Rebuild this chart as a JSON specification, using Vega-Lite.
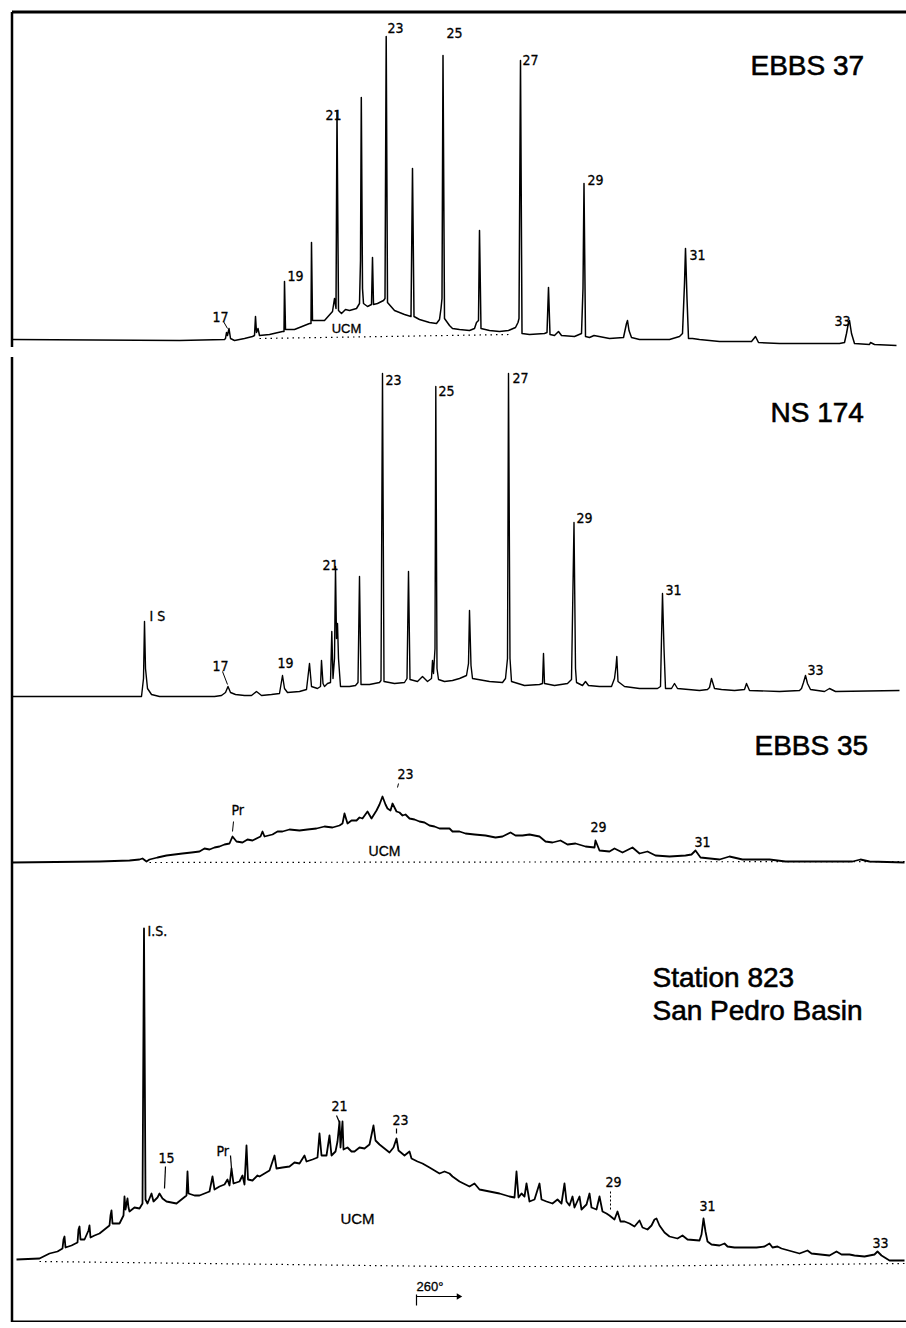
{
  "$schema": "https://vega.github.io/schema/vega-lite/v6.json",
  "background": "white",
  "padding": {"left": 10.5, "top": 11.5, "right": 0, "bottom": 0},
  "spacing": 10,
  "config": {
    "view": {"stroke": null},
    "axis": {"domain": true, "domainColor": "#000", "domainWidth": 2.5, "ticks": false, "labels": false, "grid": false, "minExtent": 0, "maxExtent": 0},
    "text": {"color": "#000"}
  },
  "resolve": {"scale": {"x": "independent", "y": "independent"}},
  "datasets": {
    "p1": [
      {"rt":12,"sig":0},{"rt":180,"sig":-1},{"rt":225,"sig":0},{"rt":226,"sig":1},{"rt":227,"sig":7},{"rt":228,"sig":4},{"rt":229.5,"sig":11},{"rt":231,"sig":1},{"rt":235,"sig":-1},{"rt":245,"sig":1},{"rt":253,"sig":3},{"rt":255,"sig":4},{"rt":256,"sig":23},{"rt":257,"sig":7},{"rt":258.5,"sig":11},{"rt":260,"sig":4},{"rt":270,"sig":5},{"rt":283,"sig":8},{"rt":284.5,"sig":8},{"rt":285,"sig":58},{"rt":286,"sig":10},{"rt":295,"sig":10},{"rt":300,"sig":12},{"rt":310,"sig":16},{"rt":311.5,"sig":16},{"rt":312,"sig":97},{"rt":313,"sig":19},{"rt":320,"sig":19},{"rt":325,"sig":19},{"rt":333,"sig":28},{"rt":335,"sig":41},{"rt":336.5,"sig":31},{"rt":337.5,"sig":228},{"rt":339,"sig":29},{"rt":342,"sig":26},{"rt":346,"sig":30},{"rt":350,"sig":29},{"rt":357,"sig":31},{"rt":360,"sig":36},{"rt":361,"sig":79},{"rt":361.8,"sig":242},{"rt":363,"sig":51},{"rt":364,"sig":36},{"rt":368,"sig":33},{"rt":372,"sig":35},{"rt":373,"sig":82},{"rt":374,"sig":35},{"rt":378,"sig":36},{"rt":384,"sig":39},{"rt":385.5,"sig":41},{"rt":386.7,"sig":303},{"rt":388,"sig":37},{"rt":395,"sig":29},{"rt":405,"sig":25},{"rt":411.5,"sig":23},{"rt":413,"sig":171},{"rt":414.5,"sig":23},{"rt":420,"sig":20},{"rt":430,"sig":17},{"rt":437,"sig":16},{"rt":440,"sig":20},{"rt":441.5,"sig":31},{"rt":442.5,"sig":41},{"rt":443.5,"sig":284},{"rt":445,"sig":21},{"rt":450,"sig":14},{"rt":453,"sig":11},{"rt":460,"sig":10},{"rt":470,"sig":9},{"rt":475,"sig":11},{"rt":477,"sig":17},{"rt":479,"sig":19},{"rt":480,"sig":109},{"rt":481.5,"sig":11},{"rt":490,"sig":9},{"rt":500,"sig":8},{"rt":509,"sig":9},{"rt":516,"sig":12},{"rt":518.5,"sig":17},{"rt":519.5,"sig":21},{"rt":521,"sig":279},{"rt":522.5,"sig":6},{"rt":530,"sig":5},{"rt":545,"sig":6},{"rt":547.5,"sig":7},{"rt":549,"sig":52},{"rt":550.5,"sig":5},{"rt":555,"sig":4},{"rt":559,"sig":8},{"rt":562,"sig":4},{"rt":575,"sig":3},{"rt":582,"sig":6},{"rt":583.5,"sig":51},{"rt":584.5,"sig":156},{"rt":586,"sig":3},{"rt":590,"sig":2},{"rt":594.5,"sig":4},{"rt":610,"sig":1},{"rt":624,"sig":2},{"rt":627,"sig":16},{"rt":628,"sig":19},{"rt":629.5,"sig":9},{"rt":632,"sig":2},{"rt":640,"sig":0},{"rt":670,"sig":0},{"rt":680,"sig":3},{"rt":683,"sig":6},{"rt":685,"sig":56},{"rt":686,"sig":91},{"rt":687.5,"sig":41},{"rt":689,"sig":1},{"rt":693,"sig":1},{"rt":700,"sig":0},{"rt":720,"sig":-2},{"rt":752,"sig":-2},{"rt":756,"sig":3},{"rt":759,"sig":-3},{"rt":780,"sig":-4},{"rt":840,"sig":-4},{"rt":845,"sig":-3},{"rt":847,"sig":6},{"rt":849,"sig":17},{"rt":850,"sig":19},{"rt":852,"sig":6},{"rt":855,"sig":-4},{"rt":870,"sig":-5},{"rt":871,"sig":-3},{"rt":875,"sig":-5},{"rt":897,"sig":-6}
    ],
    "u1": [{"rt":260,"sig":1},{"rt":510,"sig":5}],
    "l1": [
      {"rt":213,"sig":22,"label":"17"},{"rt":288,"sig":63,"label":"19"},{"rt":326,"sig":224,"label":"21"},{"rt":388,"sig":311,"label":"23"},{"rt":447,"sig":306,"label":"25"},{"rt":523,"sig":279,"label":"27"},{"rt":588,"sig":159,"label":"29"},{"rt":690,"sig":84,"label":"31"},{"rt":835,"sig":18,"label":"33"}
    ],
    "c1": [{"rt":347,"sig":11,"label":"UCM"}],
    "t1": [{"rt":751,"sig":273,"label":"EBBS 37"}],
    "k1": [{"rt":224,"sig":18,"rt2":228,"sig2":11}],
    "p2": [
      {"rt":12,"sig":0},{"rt":142,"sig":0},{"rt":144,"sig":18},{"rt":145,"sig":75},{"rt":146,"sig":28},{"rt":148,"sig":8},{"rt":152,"sig":2},{"rt":160,"sig":0},{"rt":215,"sig":0},{"rt":222,"sig":1},{"rt":226,"sig":4},{"rt":228.5,"sig":10},{"rt":231,"sig":4},{"rt":236,"sig":2},{"rt":245,"sig":1},{"rt":252,"sig":1},{"rt":257,"sig":5},{"rt":262,"sig":1},{"rt":272,"sig":2},{"rt":280,"sig":3},{"rt":283,"sig":21},{"rt":285,"sig":8},{"rt":288,"sig":4},{"rt":300,"sig":5},{"rt":307,"sig":7},{"rt":310,"sig":33},{"rt":312,"sig":10},{"rt":318,"sig":8},{"rt":321,"sig":10},{"rt":322,"sig":36},{"rt":323.5,"sig":13},{"rt":325,"sig":10},{"rt":328,"sig":13},{"rt":331,"sig":14},{"rt":332.3,"sig":65},{"rt":333.5,"sig":18},{"rt":335,"sig":38},{"rt":336,"sig":130},{"rt":337,"sig":58},{"rt":338,"sig":73},{"rt":339,"sig":38},{"rt":341,"sig":10},{"rt":350,"sig":10},{"rt":356,"sig":11},{"rt":358.5,"sig":14},{"rt":360,"sig":120},{"rt":361.5,"sig":12},{"rt":370,"sig":12},{"rt":380,"sig":14},{"rt":381.5,"sig":16},{"rt":383,"sig":323},{"rt":384.5,"sig":15},{"rt":395,"sig":13},{"rt":405,"sig":14},{"rt":407.5,"sig":18},{"rt":409,"sig":125},{"rt":410.5,"sig":17},{"rt":418,"sig":15},{"rt":423,"sig":20},{"rt":428,"sig":15},{"rt":432,"sig":18},{"rt":433,"sig":36},{"rt":434,"sig":23},{"rt":435.5,"sig":48},{"rt":436.3,"sig":310},{"rt":437.5,"sig":28},{"rt":439,"sig":17},{"rt":445,"sig":15},{"rt":453,"sig":16},{"rt":460,"sig":18},{"rt":467,"sig":21},{"rt":469,"sig":33},{"rt":470,"sig":86},{"rt":471.5,"sig":31},{"rt":473,"sig":18},{"rt":490,"sig":15},{"rt":503,"sig":14},{"rt":506,"sig":18},{"rt":508,"sig":38},{"rt":509,"sig":323},{"rt":510.5,"sig":38},{"rt":512,"sig":15},{"rt":525,"sig":11},{"rt":540,"sig":12},{"rt":543,"sig":13},{"rt":544,"sig":43},{"rt":545,"sig":13},{"rt":555,"sig":11},{"rt":568,"sig":13},{"rt":572,"sig":17},{"rt":574.5,"sig":174},{"rt":576,"sig":28},{"rt":577,"sig":14},{"rt":583,"sig":11},{"rt":586,"sig":15},{"rt":589,"sig":11},{"rt":600,"sig":10},{"rt":612,"sig":10},{"rt":615,"sig":18},{"rt":616.5,"sig":30},{"rt":617.3,"sig":40},{"rt":618.5,"sig":15},{"rt":625,"sig":10},{"rt":640,"sig":8},{"rt":658,"sig":8},{"rt":661,"sig":10},{"rt":662,"sig":58},{"rt":663,"sig":103},{"rt":664.5,"sig":48},{"rt":666,"sig":8},{"rt":672,"sig":8},{"rt":675,"sig":13},{"rt":678,"sig":8},{"rt":700,"sig":6},{"rt":708,"sig":7},{"rt":710,"sig":9},{"rt":712,"sig":18},{"rt":715,"sig":8},{"rt":722,"sig":7},{"rt":735,"sig":6},{"rt":745,"sig":7},{"rt":747,"sig":13},{"rt":750,"sig":6},{"rt":780,"sig":5},{"rt":800,"sig":6},{"rt":802,"sig":8},{"rt":804,"sig":14},{"rt":806,"sig":21},{"rt":808,"sig":13},{"rt":811,"sig":7},{"rt":825,"sig":5},{"rt":830,"sig":8},{"rt":836,"sig":5},{"rt":900,"sig":6}
    ],
    "l2": [
      {"rt":150,"sig":80,"label":"I S"},{"rt":213,"sig":30,"label":"17"},{"rt":278,"sig":33,"label":"19"},{"rt":323,"sig":131,"label":"21"},{"rt":386,"sig":316,"label":"23"},{"rt":439,"sig":305,"label":"25"},{"rt":513,"sig":318,"label":"27"},{"rt":577,"sig":178,"label":"29"},{"rt":666,"sig":106,"label":"31"},{"rt":808,"sig":26,"label":"33"}
    ],
    "t2": [{"rt":771,"sig":283,"label":"NS 174"}],
    "k2": [{"rt":223,"sig":25,"rt2":228,"sig2":12}],
    "p3": [
      {"rt":12,"sig":0},{"rt":100,"sig":1},{"rt":130,"sig":2},{"rt":140,"sig":3},{"rt":143,"sig":4},{"rt":147,"sig":1},{"rt":150,"sig":3},{"rt":158,"sig":5},{"rt":167,"sig":7},{"rt":175,"sig":8},{"rt":183,"sig":9},{"rt":192,"sig":10},{"rt":200,"sig":11},{"rt":205,"sig":14},{"rt":210,"sig":13},{"rt":215,"sig":15},{"rt":220,"sig":16},{"rt":225,"sig":18},{"rt":230,"sig":19},{"rt":233,"sig":26},{"rt":237,"sig":21},{"rt":243,"sig":20},{"rt":248,"sig":23},{"rt":253,"sig":22},{"rt":261,"sig":26},{"rt":263,"sig":31},{"rt":265,"sig":26},{"rt":273,"sig":28},{"rt":278,"sig":31},{"rt":283,"sig":31},{"rt":290,"sig":33},{"rt":300,"sig":32},{"rt":308,"sig":33},{"rt":317,"sig":34},{"rt":325,"sig":36},{"rt":333,"sig":35},{"rt":340,"sig":37},{"rt":343,"sig":39},{"rt":345,"sig":49},{"rt":348,"sig":39},{"rt":352,"sig":42},{"rt":357,"sig":42},{"rt":360,"sig":45},{"rt":363,"sig":44},{"rt":368,"sig":51},{"rt":372,"sig":44},{"rt":377,"sig":52},{"rt":380,"sig":58},{"rt":383,"sig":66},{"rt":386,"sig":58},{"rt":388,"sig":54},{"rt":391,"sig":52},{"rt":393,"sig":59},{"rt":397,"sig":51},{"rt":400,"sig":50},{"rt":403,"sig":47},{"rt":406,"sig":48},{"rt":410,"sig":44},{"rt":415,"sig":43},{"rt":420,"sig":41},{"rt":425,"sig":40},{"rt":430,"sig":37},{"rt":435,"sig":36},{"rt":440,"sig":34},{"rt":450,"sig":34},{"rt":453,"sig":31},{"rt":460,"sig":31},{"rt":466,"sig":29},{"rt":475,"sig":28},{"rt":486,"sig":27},{"rt":496,"sig":25},{"rt":503,"sig":26},{"rt":511,"sig":30},{"rt":516,"sig":27},{"rt":523,"sig":27},{"rt":530,"sig":28},{"rt":540,"sig":26},{"rt":546,"sig":21},{"rt":553,"sig":20},{"rt":561,"sig":22},{"rt":568,"sig":18},{"rt":576,"sig":19},{"rt":586,"sig":16},{"rt":595,"sig":15},{"rt":596,"sig":22},{"rt":600,"sig":12},{"rt":610,"sig":11},{"rt":615,"sig":14},{"rt":623,"sig":10},{"rt":633,"sig":15},{"rt":640,"sig":9},{"rt":648,"sig":11},{"rt":656,"sig":7},{"rt":670,"sig":6},{"rt":686,"sig":7},{"rt":692,"sig":8},{"rt":696,"sig":12},{"rt":701,"sig":5},{"rt":720,"sig":3},{"rt":730,"sig":6},{"rt":743,"sig":3},{"rt":770,"sig":3},{"rt":786,"sig":1},{"rt":853,"sig":1},{"rt":861,"sig":3},{"rt":870,"sig":1},{"rt":905,"sig":0}
    ],
    "u3": [{"rt":150,"sig":0},{"rt":905,"sig":1}],
    "l3": [
      {"rt":232,"sig":52,"label":"Pr"},{"rt":398,"sig":88,"label":"23"},{"rt":591,"sig":35,"label":"29"},{"rt":695,"sig":20,"label":"31"}
    ],
    "c3": [{"rt":385,"sig":11,"label":"UCM"}],
    "t3": [{"rt":755,"sig":116,"label":"EBBS 35"}],
    "k3": [{"rt":234,"sig":41,"rt2":233,"sig2":31},{"rt":399,"sig":79,"rt2":398,"sig2":75}],
    "p4": [
      {"rt":17,"sig":0},{"rt":40,"sig":1},{"rt":50,"sig":6},{"rt":58,"sig":8},{"rt":63,"sig":11},{"rt":64,"sig":20},{"rt":65,"sig":23},{"rt":66,"sig":12},{"rt":72,"sig":14},{"rt":78,"sig":17},{"rt":79,"sig":30},{"rt":80,"sig":33},{"rt":81,"sig":20},{"rt":85,"sig":20},{"rt":89,"sig":29},{"rt":90,"sig":34},{"rt":91,"sig":22},{"rt":95,"sig":24},{"rt":100,"sig":26},{"rt":105,"sig":30},{"rt":110,"sig":34},{"rt":111,"sig":44},{"rt":112,"sig":49},{"rt":113,"sig":36},{"rt":118,"sig":36},{"rt":120,"sig":36},{"rt":124,"sig":44},{"rt":125,"sig":63},{"rt":126,"sig":50},{"rt":128,"sig":61},{"rt":129,"sig":52},{"rt":130,"sig":48},{"rt":135,"sig":52},{"rt":140,"sig":51},{"rt":143,"sig":56},{"rt":144.5,"sig":331},{"rt":146,"sig":60},{"rt":148,"sig":56},{"rt":152,"sig":66},{"rt":154,"sig":58},{"rt":158,"sig":62},{"rt":160,"sig":66},{"rt":163,"sig":61},{"rt":167,"sig":58},{"rt":172,"sig":57},{"rt":177,"sig":56},{"rt":182,"sig":60},{"rt":187,"sig":64},{"rt":188,"sig":88},{"rt":189,"sig":66},{"rt":195,"sig":64},{"rt":200,"sig":64},{"rt":205,"sig":66},{"rt":210,"sig":68},{"rt":213,"sig":83},{"rt":215,"sig":70},{"rt":220,"sig":73},{"rt":225,"sig":75},{"rt":228,"sig":80},{"rt":230,"sig":74},{"rt":232,"sig":91},{"rt":234,"sig":76},{"rt":240,"sig":78},{"rt":243,"sig":84},{"rt":245,"sig":75},{"rt":247,"sig":114},{"rt":248.5,"sig":80},{"rt":253,"sig":79},{"rt":258,"sig":84},{"rt":260,"sig":83},{"rt":265,"sig":86},{"rt":270,"sig":89},{"rt":275,"sig":104},{"rt":277,"sig":91},{"rt":283,"sig":92},{"rt":290,"sig":93},{"rt":295,"sig":97},{"rt":300,"sig":96},{"rt":305,"sig":104},{"rt":307,"sig":98},{"rt":313,"sig":100},{"rt":318,"sig":102},{"rt":320,"sig":126},{"rt":322,"sig":104},{"rt":327,"sig":104},{"rt":330,"sig":124},{"rt":332,"sig":104},{"rt":336,"sig":108},{"rt":338,"sig":118},{"rt":340,"sig":138},{"rt":341,"sig":112},{"rt":343,"sig":138},{"rt":344,"sig":110},{"rt":348,"sig":112},{"rt":352,"sig":108},{"rt":355,"sig":108},{"rt":360,"sig":112},{"rt":365,"sig":111},{"rt":370,"sig":115},{"rt":374,"sig":134},{"rt":376,"sig":119},{"rt":380,"sig":115},{"rt":385,"sig":111},{"rt":390,"sig":107},{"rt":394,"sig":112},{"rt":397,"sig":121},{"rt":399,"sig":109},{"rt":405,"sig":104},{"rt":410,"sig":108},{"rt":412,"sig":101},{"rt":418,"sig":98},{"rt":423,"sig":96},{"rt":430,"sig":92},{"rt":440,"sig":86},{"rt":445,"sig":88},{"rt":450,"sig":86},{"rt":453,"sig":83},{"rt":460,"sig":78},{"rt":470,"sig":73},{"rt":475,"sig":76},{"rt":480,"sig":70},{"rt":490,"sig":68},{"rt":500,"sig":66},{"rt":510,"sig":63},{"rt":515,"sig":62},{"rt":517,"sig":88},{"rt":519,"sig":62},{"rt":522,"sig":66},{"rt":525,"sig":63},{"rt":527,"sig":76},{"rt":530,"sig":58},{"rt":535,"sig":60},{"rt":540,"sig":76},{"rt":542,"sig":60},{"rt":547,"sig":58},{"rt":553,"sig":56},{"rt":558,"sig":60},{"rt":562,"sig":56},{"rt":565,"sig":76},{"rt":567,"sig":58},{"rt":570,"sig":54},{"rt":573,"sig":63},{"rt":575,"sig":52},{"rt":580,"sig":63},{"rt":582,"sig":50},{"rt":587,"sig":55},{"rt":590,"sig":66},{"rt":592,"sig":52},{"rt":597,"sig":50},{"rt":600,"sig":63},{"rt":603,"sig":48},{"rt":607,"sig":46},{"rt":610,"sig":44},{"rt":615,"sig":40},{"rt":618,"sig":48},{"rt":621,"sig":38},{"rt":625,"sig":38},{"rt":630,"sig":36},{"rt":635,"sig":33},{"rt":640,"sig":39},{"rt":643,"sig":32},{"rt":648,"sig":30},{"rt":652,"sig":34},{"rt":655,"sig":40},{"rt":657,"sig":41},{"rt":660,"sig":34},{"rt":665,"sig":27},{"rt":670,"sig":23},{"rt":678,"sig":21},{"rt":683,"sig":24},{"rt":688,"sig":20},{"rt":700,"sig":19},{"rt":702,"sig":25},{"rt":704,"sig":41},{"rt":706,"sig":28},{"rt":708,"sig":18},{"rt":712,"sig":15},{"rt":720,"sig":14},{"rt":725,"sig":16},{"rt":728,"sig":13},{"rt":735,"sig":12},{"rt":757,"sig":12},{"rt":765,"sig":13},{"rt":770,"sig":16},{"rt":773,"sig":12},{"rt":778,"sig":13},{"rt":782,"sig":11},{"rt":800,"sig":6},{"rt":808,"sig":9},{"rt":812,"sig":6},{"rt":830,"sig":4},{"rt":837,"sig":8},{"rt":842,"sig":5},{"rt":850,"sig":5},{"rt":855,"sig":4},{"rt":865,"sig":3},{"rt":875,"sig":5},{"rt":878,"sig":8},{"rt":882,"sig":4},{"rt":890,"sig":-1},{"rt":905,"sig":-1}
    ],
    "u4": [{"rt":40,"sig":-2},{"rt":450,"sig":-7},{"rt":600,"sig":-7},{"rt":905,"sig":-4}],
    "l4": [
      {"rt":148,"sig":328,"label":"I.S."},{"rt":159,"sig":101,"label":"15"},{"rt":217,"sig":108,"label":"Pr"},{"rt":332,"sig":153,"label":"21"},{"rt":393,"sig":139,"label":"23"},{"rt":606,"sig":77,"label":"29"},{"rt":700,"sig":53,"label":"31"},{"rt":873,"sig":16,"label":"33"}
    ],
    "c4": [{"rt":358,"sig":41,"label":"UCM"}],
    "s4": [{"rt":417,"sig":-27,"label":"260°"}],
    "t4": [{"rt":653,"sig":281,"label":"Station 823"},{"rt":653,"sig":248,"label":"San Pedro Basin"}],
    "k4": [{"rt":166,"sig":93,"rt2":165,"sig2":71},{"rt":231,"sig":104,"rt2":232,"sig2":91},{"rt":337,"sig":144,"rt2":340,"sig2":137},{"rt":397,"sig":131,"rt2":397,"sig2":126},{"rt":417,"sig":-35,"rt2":417,"sig2":-46},{"rt":417,"sig":-37,"rt2":458,"sig2":-37}],
    "d4": [{"rt":611,"sig":68,"rt2":611,"sig2":48}],
    "a4": [{"rt":460,"sig":-37}]
  },
  "vconcat": [
    {
      "width": 894, "height": 335,
      "encoding": {
        "x": {"field": "rt", "type": "quantitative", "scale": {"domain": [12, 906], "nice": false, "zero": false}, "axis": {"orient": "top", "title": null, "domainWidth": 3}},
        "y": {"field": "sig", "type": "quantitative", "scale": {"domain": [-7, 328], "nice": false, "zero": false}, "axis": {"orient": "left", "title": null}}
      },
      "layer": [
        {"data": {"name": "u1"}, "mark": {"type": "line", "color": "#000", "strokeWidth": 1.2, "strokeDash": [1.5, 4]}},
        {"data": {"name": "p1"}, "mark": {"type": "line", "color": "#000", "strokeWidth": 1.5, "strokeJoin": "round"}},
        {"data": {"name": "k1"}, "mark": {"type": "rule", "color": "#000", "strokeWidth": 1}, "encoding": {"x2": {"field": "rt2"}, "y2": {"field": "sig2"}}},
        {"data": {"name": "l1"}, "mark": {"type": "text", "align": "left", "baseline": "middle", "font": "Liberation Sans Narrow, DejaVu Sans Condensed, sans-serif", "fontSize": 14, "stroke": "#000", "strokeWidth": 0.3}, "encoding": {"text": {"field": "label"}}},
        {"data": {"name": "c1"}, "mark": {"type": "text", "align": "center", "baseline": "middle", "font": "Liberation Sans, sans-serif", "fontSize": 13, "stroke": "#000", "strokeWidth": 0.3}, "encoding": {"text": {"field": "label"}}},
        {"data": {"name": "t1"}, "mark": {"type": "text", "align": "left", "baseline": "middle", "font": "Liberation Sans, sans-serif", "fontSize": 28, "stroke": "#000", "strokeWidth": 0.6}, "encoding": {"text": {"field": "label"}}}
      ]
    },
    {
      "spacing": 0,
      "resolve": {"scale": {"x": "independent", "y": "independent"}},
      "vconcat": [
        {
          "width": 894, "height": 344,
          "encoding": {
            "x": {"field": "rt", "type": "quantitative", "scale": {"domain": [12, 906], "nice": false, "zero": false}, "axis": null},
            "y": {"field": "sig", "type": "quantitative", "scale": {"domain": [-4, 340], "nice": false, "zero": false}, "axis": {"orient": "left", "title": null}}
          },
          "layer": [
            {"data": {"name": "p2"}, "mark": {"type": "line", "color": "#000", "strokeWidth": 1.4, "strokeJoin": "round"}},
            {"data": {"name": "k2"}, "mark": {"type": "rule", "color": "#000", "strokeWidth": 1}, "encoding": {"x2": {"field": "rt2"}, "y2": {"field": "sig2"}}},
            {"data": {"name": "l2"}, "mark": {"type": "text", "align": "left", "baseline": "middle", "font": "Liberation Sans Narrow, DejaVu Sans Condensed, sans-serif", "fontSize": 14, "stroke": "#000", "strokeWidth": 0.3}, "encoding": {"text": {"field": "label"}}},
            {"data": {"name": "t2"}, "mark": {"type": "text", "align": "left", "baseline": "middle", "font": "Liberation Sans, sans-serif", "fontSize": 28, "stroke": "#000", "strokeWidth": 0.6}, "encoding": {"text": {"field": "label"}}}
          ]
        },
        {
          "width": 894, "height": 166,
          "encoding": {
            "x": {"field": "rt", "type": "quantitative", "scale": {"domain": [12, 906], "nice": false, "zero": false}, "axis": null},
            "y": {"field": "sig", "type": "quantitative", "scale": {"domain": [-4, 162], "nice": false, "zero": false}, "axis": {"orient": "left", "title": null}}
          },
          "layer": [
            {"data": {"name": "u3"}, "mark": {"type": "line", "color": "#000", "strokeWidth": 1.2, "strokeDash": [1.5, 4]}},
            {"data": {"name": "p3"}, "mark": {"type": "line", "color": "#000", "strokeWidth": 1.8, "strokeJoin": "round"}},
            {"data": {"name": "k3"}, "mark": {"type": "rule", "color": "#000", "strokeWidth": 1}, "encoding": {"x2": {"field": "rt2"}, "y2": {"field": "sig2"}}},
            {"data": {"name": "l3"}, "mark": {"type": "text", "align": "left", "baseline": "middle", "font": "Liberation Sans Narrow, DejaVu Sans Condensed, sans-serif", "fontSize": 14, "stroke": "#000", "strokeWidth": 0.3}, "encoding": {"text": {"field": "label"}}},
            {"data": {"name": "c3"}, "mark": {"type": "text", "align": "center", "baseline": "middle", "font": "Liberation Sans, sans-serif", "fontSize": 14, "stroke": "#000", "strokeWidth": 0.3}, "encoding": {"text": {"field": "label"}}},
            {"data": {"name": "t3"}, "mark": {"type": "text", "align": "left", "baseline": "middle", "font": "Liberation Sans, sans-serif", "fontSize": 28, "stroke": "#000", "strokeWidth": 0.6}, "encoding": {"text": {"field": "label"}}}
          ]
        },
        {
          "width": 894, "height": 455,
          "encoding": {
            "x": {"field": "rt", "type": "quantitative", "scale": {"domain": [12, 906], "nice": false, "zero": false}, "axis": {"orient": "bottom", "title": null, "domainWidth": 3}},
            "y": {"field": "sig", "type": "quantitative", "scale": {"domain": [-62, 393], "nice": false, "zero": false}, "axis": {"orient": "left", "title": null}}
          },
          "layer": [
            {"data": {"name": "u4"}, "mark": {"type": "line", "color": "#000", "strokeWidth": 1.2, "strokeDash": [1.5, 4]}},
            {"data": {"name": "p4"}, "mark": {"type": "line", "color": "#000", "strokeWidth": 1.8, "strokeJoin": "round"}},
            {"data": {"name": "k4"}, "mark": {"type": "rule", "color": "#000", "strokeWidth": 1.2}, "encoding": {"x2": {"field": "rt2"}, "y2": {"field": "sig2"}}},
            {"data": {"name": "d4"}, "mark": {"type": "rule", "color": "#000", "strokeWidth": 1, "strokeDash": [2, 2]}, "encoding": {"x2": {"field": "rt2"}, "y2": {"field": "sig2"}}},
            {"data": {"name": "a4"}, "mark": {"type": "point", "shape": "triangle-right", "filled": true, "color": "#000", "size": 40, "opacity": 1}},
            {"data": {"name": "l4"}, "mark": {"type": "text", "align": "left", "baseline": "middle", "font": "Liberation Sans Narrow, DejaVu Sans Condensed, sans-serif", "fontSize": 14, "stroke": "#000", "strokeWidth": 0.3}, "encoding": {"text": {"field": "label"}}},
            {"data": {"name": "c4"}, "mark": {"type": "text", "align": "center", "baseline": "middle", "font": "Liberation Sans, sans-serif", "fontSize": 15, "stroke": "#000", "strokeWidth": 0.3}, "encoding": {"text": {"field": "label"}}},
            {"data": {"name": "s4"}, "mark": {"type": "text", "align": "left", "baseline": "middle", "font": "Liberation Sans, sans-serif", "fontSize": 13, "stroke": "#000", "strokeWidth": 0.3}, "encoding": {"text": {"field": "label"}}},
            {"data": {"name": "t4"}, "mark": {"type": "text", "align": "left", "baseline": "middle", "font": "Liberation Sans, sans-serif", "fontSize": 28, "stroke": "#000", "strokeWidth": 0.6}, "encoding": {"text": {"field": "label"}}}
          ]
        }
      ]
    }
  ]
}
